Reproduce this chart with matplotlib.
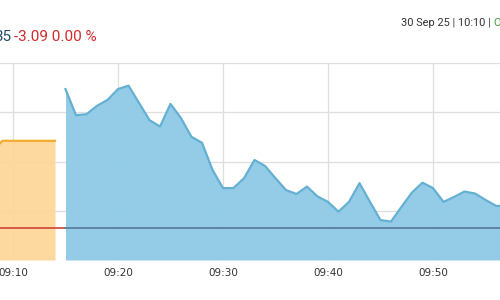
import numpy as np
import matplotlib
matplotlib.use("Agg")
import matplotlib.pyplot as plt

# intraday data, time in minutes after midnight
pre_times = ["09:08", "09:09", "09:10", "09:11", "09:12", "09:13", "09:14"]
pre_values = [2.20, 2.42, 2.42, 2.42, 2.42, 2.42, 2.42]

times = ["09:15", "09:16", "09:17", "09:18", "09:19", "09:20", "09:21", "09:22",
         "09:23", "09:24", "09:25", "09:26", "09:27", "09:28", "09:29", "09:30",
         "09:31", "09:32", "09:33", "09:34", "09:35", "09:36", "09:37", "09:38",
         "09:39", "09:40", "09:41", "09:42", "09:43", "09:44", "09:45", "09:46",
         "09:47", "09:48", "09:49", "09:50", "09:51", "09:52", "09:53", "09:54",
         "09:55", "09:56", "09:57"]
values = [3.47, 2.94, 2.96, 3.13, 3.25, 3.47, 3.54, 3.19,
          2.84, 2.71, 3.17, 2.88, 2.50, 2.38, 1.83, 1.46,
          1.46, 1.66, 2.03, 1.91, 1.66, 1.42, 1.34, 1.49,
          1.29, 1.18, 0.98, 1.18, 1.56, 1.18, 0.81, 0.78,
          1.08, 1.37, 1.57, 1.46, 1.18, 1.28, 1.39, 1.35,
          1.22, 1.10, 1.09]
prev_close = 0.65

tick_labels = ["09:10", "09:20", "09:30", "09:40", "09:50"]
y_grid = [1, 2, 3, 4]

title_last = "35"
title_change = "-3.09 0.00 %"
stamp = "30 Sep 25 | 10:10 | "
stamp_status = "Open"


def to_min(s):
    h, m = s.split(":")
    return int(h) * 60 + int(m)


tp = np.array([to_min(t) for t in pre_times])
tm = np.array([to_min(t) for t in times])
ticks = [to_min(t) for t in tick_labels]

fig = plt.figure(figsize=(5, 3), dpi=100)
ax = fig.add_axes([0, 40 / 300, 1, 197 / 300])

x0 = ticks[0] - 13 / 10.5
x1 = ticks[0] + 487 / 10.5
ax.set_xlim(x0, x1)
ax.set_ylim(0, 4)

for g in y_grid:
    ax.axhline(g, color="#dedede", lw=0.9, zorder=0)
for t in ticks:
    ax.axvline(t, color="#dedede", lw=0.9, zorder=0)

ax.fill_between(tp, pre_values, 0, color="#fdd69a", alpha=0.95, lw=0, zorder=1)
ax.plot(tp, pre_values, color="#f2ad2c", lw=1.6, zorder=2)

ax.fill_between(tm, values, 0, color="#8ecae6", alpha=0.95, lw=0, zorder=1)
ax.plot(tm, values, color="#64b0d2", lw=1.6, zorder=2)

# previous close line
ax.plot([x0, tm[0]], [prev_close, prev_close], color="#d0503f", lw=1.3, zorder=3)
ax.plot([tm[0], x1], [prev_close, prev_close], color="#5a809c", lw=1.3, zorder=3)

ax.set_xticks(ticks)
ax.set_xticklabels(tick_labels)
ax.set_yticks([])
ax.tick_params(axis="x", length=0, pad=6, labelsize=7.5, labelcolor="#333333")
for s in ax.spines.values():
    s.set_visible(False)

fig.text(11.5 / 500, 1 - 41 / 300, title_last, ha="right", va="baseline",
         fontsize=11, family="Roboto", color="#1e4d66")
fig.text(13.5 / 500, 1 - 41 / 300, title_change, ha="left", va="baseline",
         fontsize=11, family="Roboto", color="#d22b2b")

st = fig.text(401 / 500, 1 - 25.5 / 300, stamp, ha="left", va="baseline",
              fontsize=7.9, family="Roboto", color="#333333")
fig.canvas.draw()
bb = st.get_window_extent()
fig.text(bb.x1 / fig.bbox.width, 1 - 25.5 / 300, stamp_status, ha="left",
         va="baseline", fontsize=7.9, family="Roboto", color="#3a9a3a")

fig.savefig("out.png", dpi=100)
